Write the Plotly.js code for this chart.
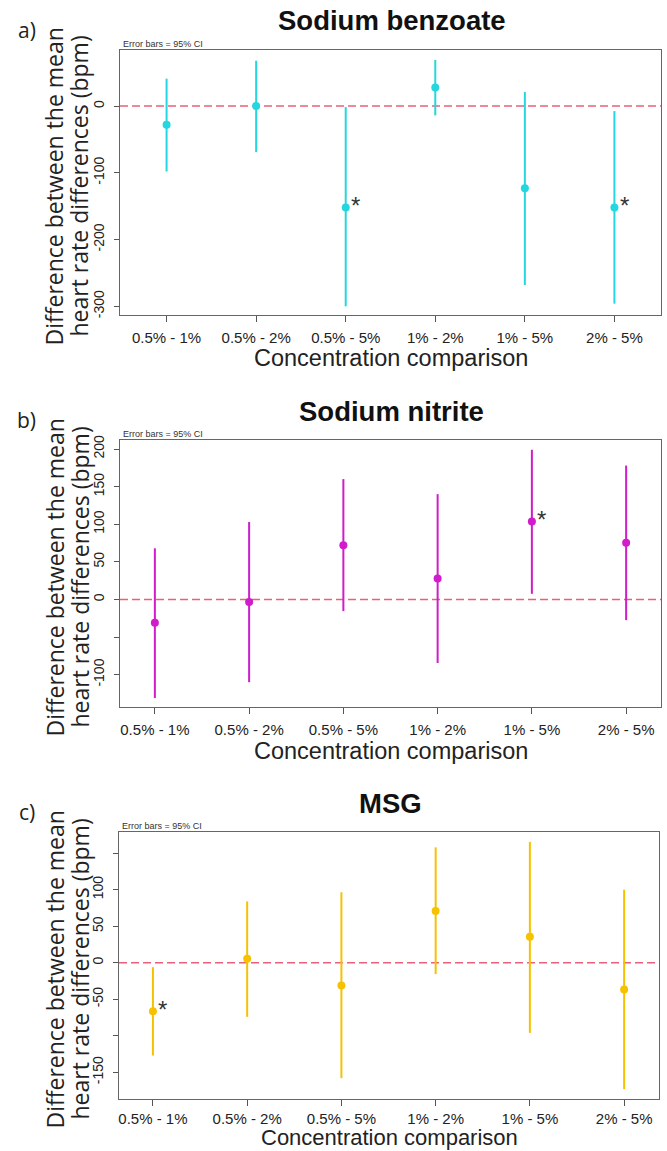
<!DOCTYPE html>
<html>
<head>
<meta charset="utf-8">
<script src="https://cdn.plot.ly/plotly-3.0.1.min.js"></script>
<style>html,body{margin:0;padding:0;background:#fff;}#chart{width:667px;height:1151px;}</style>
</head>
<body>
<div id="chart"></div>
<script>
// ---- data ----
var categories = ["0.5% - 1%", "0.5% - 2%", "0.5% - 5%", "1% - 2%", "1% - 5%", "2% - 5%"];

var benzoateMean  = [-28, 0, -152, 28, -123, -152];
var benzoateLower = [-98, -69, -300, -14, -268, -296];
var benzoateUpper = [41, 68, -1.5, 69, 21, -7.5];
var benzoateSig   = [false, false, true, false, false, true];

var nitriteMean  = [-31, -3.5, 72, 28, 103.5, 75.5];
var nitriteLower = [-131, -110, -15.5, -84.5, 7.5, -27.5];
var nitriteUpper = [68, 103, 160, 140, 199, 178];
var nitriteSig   = [false, false, false, false, true, false];

var msgMean  = [-66.5, 5.5, -31, 71, 35.5, -36.5];
var msgLower = [-127, -74, -158, -15.5, -96, -173];
var msgUpper = [-6, 84, 96.5, 158, 165.5, 100];
var msgSig   = [true, false, false, false, false, false];

var benzoateTickVals = [0, -100, -200, -300];
var benzoateTickText = ["0", "-100", "-200", "-300"];
var nitriteTickVals  = [-100, -50, 0, 50, 100, 150, 200];
var nitriteTickText  = ["-100", "", "0", "50", "100", "150", "200"];
var msgTickVals      = [-150, -100, -50, 0, 50, 100, 150];
var msgTickText      = ["-150", "", "-50", "0", "50", "100", ""];

var panelTitles = ["Sodium benzoate", "Sodium nitrite", "MSG"];
var panelLetters = ["a)", "b)", "c)"];
var yTitleLine1 = "Difference between the mean";
var yTitleLine2 = "heart rate differences (bpm)";
var xTitleText = "Concentration comparison";
var noteText = "Error bars = 95% CI";

// ---- layout geometry (pixels) ----
var W = 667, H = 1151;
function px(x){ return x / W; }
function py(y){ return 1 - y / H; }

var panels = [
  {mean: benzoateMean, lo: benzoateLower, hi: benzoateUpper, sig: benzoateSig, color: "#24D6DF",
   tv: benzoateTickVals, tt: benzoateTickText, yr: [-313, 84], xr: [-0.52, 5.52],
   left: 120, right: 661, top: 50, bottom: 315, xstand: 3},
  {mean: nitriteMean, lo: nitriteLower, hi: nitriteUpper, sig: nitriteSig, color: "#D01CCB",
   tv: nitriteTickVals, tt: nitriteTickText, yr: [-143, 212], xr: [-0.37, 5.37],
   left: 120, right: 661, top: 440, bottom: 707, xstand: 3},
  {mean: msgMean, lo: msgLower, hi: msgUpper, sig: msgSig, color: "#F6C200",
   tv: msgTickVals, tt: msgTickText, yr: [-186.5, 179], xr: [-0.36, 5.37],
   left: 119, right: 659, top: 832, bottom: 1099, xstand: 0}
];

var FONT = "Liberation Sans, Arial, sans-serif";
var FONT2 = "Open Sans, Noto Sans, sans-serif";

var traces = [], annotations = [], shapes = [];
var layout = {
  width: W, height: H,
  margin: {l: 0, r: 0, t: 0, b: 0},
  paper_bgcolor: "#fff", plot_bgcolor: "#fff",
  showlegend: false,
  font: {family: FONT, color: "#222"}
};

panels.forEach(function(p, i){
  var n = i === 0 ? "" : String(i + 1);
  var xa = "x" + n, ya = "y" + n;
  traces.push({
    type: "scatter", mode: "markers",
    x: categories, y: p.mean,
    xaxis: xa, yaxis: ya,
    marker: {color: p.color, size: 8},
    error_y: {
      type: "data", symmetric: false,
      array: p.hi.map(function(v, k){ return v - p.mean[k]; }),
      arrayminus: p.mean.map(function(v, k){ return v - p.lo[k]; }),
      color: p.color, thickness: 2, width: 0
    },
    hoverinfo: "x+y"
  });
  var axBase = {
    showline: true, mirror: true, linecolor: "#666", linewidth: 1.3,
    showgrid: false, zeroline: false,
    ticks: "outside", ticklen: 6, tickcolor: "#555", tickwidth: 1
  };
  layout["xaxis" + n] = Object.assign({}, axBase, {
    anchor: ya, domain: [px(p.left), px(p.right)],
    type: "category", range: p.xr,
    tickfont: {family: FONT, size: 15, color: "#222"},
    ticklabelstandoff: p.xstand
  });
  layout["yaxis" + n] = Object.assign({}, axBase, {
    anchor: xa, domain: [py(p.bottom), py(p.top)],
    range: p.yr, tickmode: "array", tickvals: p.tv, ticktext: p.tt,
    tickangle: -90, ticklen: 5,
    tickfont: {family: FONT, size: 14, color: "#222"},
    ticklabelstandoff: 4
  });
  shapes.push({
    type: "line", xref: xa + " domain", yref: ya,
    x0: 0, x1: 1, y0: 0, y1: 0,
    line: {color: "#E8607A", width: 1.6, dash: "8px,4px"},
    layer: "below"
  });
  // significance stars
  p.sig.forEach(function(s, k){
    if (!s) return;
    annotations.push({
      xref: xa, yref: ya, x: categories[k], y: p.mean[k],
      text: "*", showarrow: false, xshift: 10, yshift: 2,
      font: {family: FONT, size: 24, color: "#333"}
    });
  });
  var cx = (p.left + p.right) / 2;
  var cy = (p.top + p.bottom) / 2 + 4;
  // panel title
  annotations.push({xref: "paper", yref: "paper", x: px(cx + 1), y: py(p.top - 29),
    text: "<b>" + panelTitles[i] + "</b>", showarrow: false, xanchor: "center", yanchor: "middle",
    font: {family: FONT, size: 27.5, color: "#111"}});
  // letter
  annotations.push({xref: "paper", yref: "paper", x: px(27), y: py(p.top - 20),
    text: panelLetters[i], showarrow: false, xanchor: "center", yanchor: "middle",
    font: {family: FONT2, size: 21, color: "#222"}});
  // note
  annotations.push({xref: "paper", yref: "paper", x: px(p.left + 1), y: py(p.top + 1),
    text: noteText, showarrow: false, xanchor: "left", yanchor: "bottom",
    font: {family: FONT, size: 9, color: "#333"}});
  // y titles
  annotations.push({xref: "paper", yref: "paper", x: px(54), y: py(cy),
    text: yTitleLine1, showarrow: false, textangle: -90, xanchor: "center", yanchor: "middle",
    font: {family: FONT2, size: 23, color: "#222"}});
  annotations.push({xref: "paper", yref: "paper", x: px(79), y: py(cy),
    text: yTitleLine2, showarrow: false, textangle: -90, xanchor: "center", yanchor: "middle",
    font: {family: FONT2, size: 23, color: "#222"}});
  // x title
  if (i === 2) {
    annotations.push({xref: "paper", yref: "paper", x: px(cx), y: 0,
      text: xTitleText, showarrow: false, xanchor: "center", yanchor: "bottom",
      borderpad: 0, font: {family: FONT, size: 22, color: "#222"}});
  } else {
    annotations.push({xref: "paper", yref: "paper", x: px(cx), y: py(p.bottom + 43.5),
      text: xTitleText, showarrow: false, xanchor: "center", yanchor: "middle",
      font: {family: FONT, size: 23.5, color: "#222"}});
  }
});

layout.annotations = annotations;
layout.shapes = shapes;

Plotly.newPlot("chart", traces, layout, {staticPlot: true, displayModeBar: false});
</script>
</body>
</html>
